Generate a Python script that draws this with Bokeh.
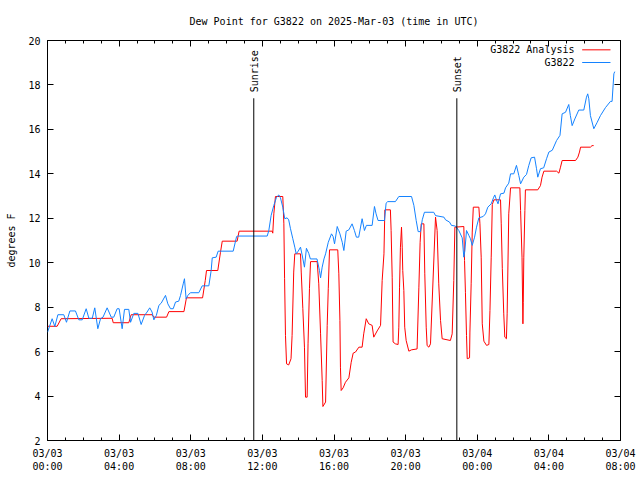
import math
from bokeh.plotting import figure
from bokeh.models import FixedTicker, LinearAxis, Label, Arrow, Range1d, CustomLabelingPolicy
from bokeh.embed import file_html
from bokeh.resources import INLINE

FONT = "DejaVu Sans Mono"
RED = "#ff0000"
BLUE = "#1482ff"

# Observations (G3822): hours since 2025-03-03 00:00 UTC, dew point degF
hours_obs = [0.00, 0.26, 0.41, 0.58, 0.91, 1.06, 1.25, 1.56, 1.75, 1.94, 2.16, 2.31, 2.50, 2.64, 2.81,
             2.96, 3.10, 3.33, 3.56, 3.70, 3.89, 4.00, 4.17, 4.30, 4.54, 4.64, 4.82, 5.05, 5.23, 5.42,
             5.56, 5.71, 5.84, 5.94, 6.08, 6.22, 6.35, 6.59, 6.72, 6.87, 7.02, 7.15, 7.33, 7.43, 7.58,
             7.65, 7.74, 7.84, 7.98, 8.45, 8.64, 9.01, 9.14, 9.20, 9.42, 9.53, 10.37, 10.56, 10.63,
             12.27, 12.36, 12.49, 12.64, 12.79, 12.92, 13.01, 13.14, 13.25, 13.38, 13.47, 13.57, 13.70,
             13.81, 13.89, 14.00, 14.13, 14.22, 14.35, 14.46, 14.59, 14.68, 15.05, 15.19, 15.25, 15.34,
             15.44, 15.53, 15.68, 15.86, 15.95, 16.03, 16.18, 16.33, 16.46, 16.55, 16.68, 16.83, 17.01,
             17.14, 17.25, 17.38, 17.57, 17.70, 17.81, 18.13, 18.26, 18.35, 18.46, 18.82, 18.91, 19.00,
             19.43, 19.62, 20.33, 20.46, 20.59, 20.70, 20.83, 20.93, 21.05, 21.57, 21.67, 22.14, 22.23,
             22.45, 22.56, 22.78, 22.97, 23.16, 23.25, 23.31, 23.40, 23.53, 23.62, 23.72, 23.85, 23.96,
             24.09, 24.33, 24.46, 24.59, 24.78, 24.92, 24.98, 25.07, 25.16, 25.30, 25.49, 25.58, 25.76,
             25.86, 26.04, 26.19, 26.32, 26.42, 26.60, 26.75, 26.88, 27.01, 27.20, 27.31, 27.38, 27.53,
             27.71, 27.87, 28.00, 28.19, 28.43, 28.62, 28.74, 28.93, 29.11, 29.20, 29.30, 29.45, 29.67,
             29.95, 30.10, 30.17, 30.23, 30.32, 30.51, 30.70, 30.88, 31.16, 31.44, 31.53, 31.63, 31.68]
dewpt_obs = [6.87, 7.48, 7.13, 7.66, 7.66, 7.32, 7.83, 7.83, 7.43, 7.43, 7.93, 7.50, 7.50, 7.97, 7.03,
             7.48, 7.55, 7.97, 7.55, 7.55, 7.93, 7.93, 7.03, 7.90, 7.90, 7.32, 7.72, 7.72, 7.22, 7.63,
             7.78, 7.97, 7.78, 7.43, 7.63, 8.08, 8.18, 8.53, 8.15, 7.93, 7.93, 8.23, 8.27, 8.53, 9.05,
             9.28, 8.38, 8.53, 8.65, 8.65, 8.96, 8.96, 9.65, 10.22, 10.25, 10.52, 10.52, 11.18, 11.20,
             11.20, 11.45, 12.13, 12.58, 12.95, 13.05, 12.92, 12.50, 11.98, 12.02, 11.93, 11.53, 11.08,
             10.70, 10.40, 10.52, 10.70, 10.35, 9.80, 10.65, 10.42, 10.17, 10.17, 9.65, 9.32, 9.80,
             10.17, 10.40, 10.92, 11.30, 11.18, 10.85, 11.63, 11.30, 10.92, 10.55, 11.42, 11.48, 11.75,
             11.45, 11.15, 11.15, 11.98, 11.45, 11.68, 11.68, 12.53, 12.20, 11.90, 11.90, 12.68, 12.75,
             12.75, 12.98, 12.98, 12.58, 11.90, 11.40, 11.40, 11.93, 12.27, 12.27, 12.12, 12.05, 11.93,
             11.83, 11.68, 11.65, 11.45, 11.12, 10.25, 10.55, 11.45, 11.23, 11.08, 10.78, 11.15, 11.60,
             12.02, 12.08, 12.20, 12.50, 12.65, 12.95, 13.05, 12.83, 12.65, 13.10, 13.13, 13.37, 13.58,
             14.00, 14.00, 14.38, 13.93, 13.55, 13.85, 13.97, 14.38, 14.72, 14.75, 14.23, 13.85, 14.23,
             14.27, 14.68, 14.98, 15.06, 15.50, 15.73, 16.70, 16.77, 17.12, 16.62, 16.17, 16.47, 16.87,
             16.87, 17.45, 17.60, 17.38, 16.62, 16.03, 16.32, 16.62, 16.98, 17.26, 17.26, 18.50, 18.60]

# Analysis (G3822 Analysis)
hours_anl = [0.00, 0.54, 0.76, 3.61, 3.67, 4.54, 4.67, 5.84, 5.94, 6.65, 6.78, 7.62, 7.76, 8.66, 8.81,
             8.88, 9.51, 9.66, 9.76, 10.59, 10.70, 12.55, 12.58, 12.64, 12.73, 13.14, 13.20, 13.24,
             13.29, 13.35, 13.47, 13.60, 13.66, 13.75, 13.81, 14.13, 14.17, 14.26, 14.35, 14.41, 14.50,
             14.55, 14.63, 14.69, 15.06, 15.15, 15.25, 15.34, 15.38, 15.53, 15.62, 15.68, 15.75, 16.21,
             16.27, 16.33, 16.36, 16.40, 16.51, 16.64, 16.83, 16.96, 17.07, 17.20, 17.39, 17.57, 17.66,
             17.80, 17.94, 18.13, 18.22, 18.41, 18.60, 18.69, 18.79, 18.84, 19.15, 19.19, 19.25, 19.30,
             19.43, 19.58, 19.62, 19.66, 19.71, 19.77, 19.81, 19.84, 19.90, 19.95, 20.03, 20.18, 20.33,
             20.64, 20.74, 20.81, 20.87, 21.02, 21.07, 21.15, 21.20, 21.30, 21.39, 21.67, 21.76, 21.85,
             21.95, 22.04, 22.50, 22.60, 22.69, 22.75, 23.25, 23.29, 23.34, 23.40, 23.44, 23.57, 23.59,
             23.66, 23.72, 23.78, 24.09, 24.15, 24.22, 24.28, 24.37, 24.52, 24.65, 24.71, 24.78, 24.84,
             24.93, 25.30, 25.34, 25.40, 25.48, 25.54, 25.63, 25.67, 25.76, 25.86, 26.38, 26.42, 26.50,
             26.55, 26.57, 26.60, 26.66, 26.69, 27.38, 27.53, 27.62, 27.72, 28.43, 28.56, 28.65, 28.74,
             29.49, 29.62, 29.71, 29.77, 30.32, 30.41, 30.50]
dewpt_anl = [7.14, 7.14, 7.48, 7.50, 7.30, 7.30, 7.66, 7.66, 7.55, 7.55, 7.80, 7.80, 8.42, 8.42, 9.20,
             9.65, 9.65, 10.47, 10.97, 10.97, 11.42, 11.42, 11.33, 12.20, 12.98, 12.98, 11.75, 9.28,
             6.73, 5.45, 5.40, 5.68, 6.73, 9.58, 10.40, 10.40, 9.58, 7.93, 6.20, 3.95, 3.95,
             6.35, 8.83, 10.05, 10.05, 9.05, 6.80, 4.70, 3.53, 3.73, 7.18, 8.83, 10.58, 10.58,
             9.50, 7.40, 5.30, 4.25, 4.37, 4.62, 4.82, 5.52, 5.93, 5.98, 6.20, 6.20, 6.80,
             7.48, 7.25, 7.18, 6.65, 6.93, 7.18, 9.20, 10.40, 12.38, 12.38, 11.45, 9.35, 6.43,
             6.35, 6.32, 7.10, 8.90, 10.70, 11.60, 10.70, 9.65, 8.75, 7.10, 6.50, 6.02, 6.08,
             6.12, 8.90, 10.92, 11.75, 11.75, 9.50, 7.10, 6.27, 6.20, 6.35, 12.05, 11.45, 9.05,
             7.40, 6.58, 6.50, 6.80, 9.20, 11.60, 11.63, 10.10, 8.67, 6.73, 5.68, 5.72, 6.88,
             9.05, 11.38, 12.50, 12.50, 11.75, 10.25, 7.25, 6.47, 6.28, 6.32, 7.85, 10.25, 12.62,
             12.83, 12.83, 11.75, 9.73, 7.70, 6.65, 6.58, 7.70, 12.20, 13.37, 13.37, 12.35, 10.25,
             7.25, 8.22, 10.25, 12.35, 13.28, 13.28, 13.47, 13.85, 14.12, 14.12, 14.03, 14.30, 14.60,
             14.60, 14.75, 14.98, 15.20, 15.20, 15.27, 15.27]

x_ticks = [0, 4, 8, 12, 16, 20, 24, 28, 32]
x_minor_ticks = list(range(0, 33))
x_tick_labels = ["03/03\n00:00", "03/03\n04:00", "03/03\n08:00", "03/03\n12:00", "03/03\n16:00",
                 "03/03\n20:00", "03/04\n00:00", "03/04\n04:00", "03/04\n08:00"]
y_ticks = [2, 4, 6, 8, 10, 12, 14, 16, 18, 20]

sun_hours = [11.52, 22.86]
sun_names = ["Sunrise", "Sunset"]
sun_line_top = 17.4

series_names = ["G3822 Analysis", "G3822"]

p = figure(width=640, height=480, output_backend="svg", toolbar_location=None,
           x_range=Range1d(0, 32), y_range=Range1d(2, 20),
           min_border_left=47, min_border_right=20, min_border_top=40, min_border_bottom=40)

p.title.text = "Dew Point for G3822 on 2025-Mar-03 (time in UTC)"
p.title.align = "center"
p.title.text_font = FONT
p.title.text_font_size = "10px"
p.title.text_font_style = "normal"
p.title.text_color = "black"
p.title.standoff = 20

p.xgrid.grid_line_color = None
p.ygrid.grid_line_color = None
p.outline_line_color = "black"
p.outline_line_alpha = 1.0
p.outline_line_width = 1

NO_LABELS = CustomLabelingPolicy(code="""
for (const i of indices) {
    indices.unset(i)
}
return indices
""")


def style_axis(ax, ticker, show_labels):
    ax.ticker = ticker
    ax.axis_line_color = None
    ax.major_tick_in = 6
    ax.major_tick_out = 0
    ax.minor_tick_in = 3
    ax.minor_tick_out = 0
    ax.major_tick_line_color = "black"
    ax.minor_tick_line_color = "black"
    ax.major_label_text_font = FONT
    ax.major_label_text_color = "black"
    if show_labels:
        ax.major_label_text_font_size = "10px"
    else:
        ax.major_label_text_font_size = "1px"
        ax.major_label_standoff = 0
        ax.major_label_policy = NO_LABELS


xt = FixedTicker(ticks=x_ticks, minor_ticks=x_minor_ticks)
yt = FixedTicker(ticks=y_ticks, minor_ticks=[])

style_axis(p.xaxis[0], xt, True)
p.xaxis[0].major_label_overrides = {t: lab for t, lab in zip(x_ticks, x_tick_labels)}
p.xaxis[0].major_label_standoff = 7

style_axis(p.yaxis[0], yt, True)
p.yaxis[0].major_label_standoff = 7
p.yaxis[0].axis_label = "degrees F"
p.yaxis[0].axis_label_text_font = FONT
p.yaxis[0].axis_label_text_font_size = "10px"
p.yaxis[0].axis_label_text_font_style = "normal"
p.yaxis[0].axis_label_text_color = "black"
p.yaxis[0].axis_label_standoff = 8

top_ax = LinearAxis()
style_axis(top_ax, xt, False)
p.add_layout(top_ax, "above")
right_ax = LinearAxis()
style_axis(right_ax, yt, False)
p.add_layout(right_ax, "right")

# data lines
p.line(hours_anl, dewpt_anl, line_color=RED, line_width=1)
p.line(hours_obs, dewpt_obs, line_color=BLUE, line_width=1)

# sunrise / sunset markers
p.segment(x0=sun_hours, x1=sun_hours, y0=[2, 2], y1=[sun_line_top, sun_line_top],
          line_color="black", line_width=1)
for h, name in zip(sun_hours, sun_names):
    p.add_layout(Label(x=h, y=sun_line_top, text=name, angle=math.pi / 2,
                       text_align="left", text_baseline="middle", x_offset=1, y_offset=6,
                       text_font=FONT, text_font_size="10px", text_color="black"))

# legend (label left, sample line right, like the original)
leg_text_x = 29.43
leg_line_x = [29.86, 31.44]
leg_y = [19.58, 19.01]
for name, col, y in zip(series_names, [RED, BLUE], leg_y):
    p.add_layout(Label(x=leg_text_x, y=y, text=name, text_align="right", text_baseline="middle",
                       text_font=FONT, text_font_size="10px", text_color="black"))
    p.add_layout(Arrow(end=None, x_start=leg_line_x[0], x_end=leg_line_x[1], y_start=y, y_end=y,
                       line_color=col, line_width=1))

open("out.html", "w").write(file_html(p, INLINE))
